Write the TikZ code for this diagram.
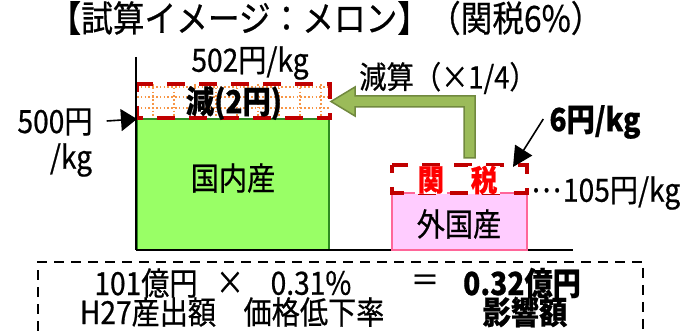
\documentclass[tikz,border=0pt]{standalone}
\usepackage{fontspec}
\setmainfont{Noto Sans CJK JP}[FakeStretch=0.88,FakeBold=0.6]
\usetikzlibrary{arrows.meta}
\definecolor{gfill}{HTML}{99FF66}
\definecolor{gline}{HTML}{2E8B20}
\definecolor{pfill}{HTML}{FFCCFF}
\definecolor{pline}{HTML}{FF6699}
\definecolor{dred}{HTML}{C00000}
\definecolor{dotc}{HTML}{F79646}
\definecolor{afill}{HTML}{9BBB59}
\definecolor{aline}{HTML}{71893F}
\begin{document}
\begin{tikzpicture}[x=1pt,y=-1pt,
  txt/.style={font=\fontsize{32pt}{34pt}\selectfont, inner sep=0pt},
  btxt/.style={txt, font=\fontsize{32pt}{34pt}\selectfont\bfseries},
  boxnode/.style={inner sep=0pt, outer sep=0pt, anchor=north west},
  reddash/.style={draw=dred, line width=4pt, dash pattern=on 18pt off 14pt, dash phase=10pt},
  ptr/.style={-{Triangle[length=16pt,width=22pt]}, line width=1.6pt}
]
\useasboundingbox (0,0) rectangle (689,331);

% title
\node[txt, font=\fontsize{36pt}{38pt}\selectfont] (title) at (326,18) {【試算イメージ：メロン】（関税6\%）};

% domestic box
\node[boxnode, draw=gline, fill=gfill, line width=1.5pt, minimum width=192pt, minimum height=131pt] (dom) at (137,119) {};
\node[txt] (domt) at (233,178) {国内産};

% reduction box with dotted grid
\node[boxnode, minimum width=193pt, minimum height=34pt] (red) at (137,84) {};
\begin{scope}
  \clip (red.north west) rectangle (red.south east);
  \foreach \xx in {0,21,...,200} {
    \draw[dotc, line width=1.5pt, dash pattern=on 1.6pt off 2.2pt] ([xshift=\xx pt+16pt]red.north west) -- ([xshift=\xx pt+16pt]red.south west);
  }
  \foreach \yy in {3,13,24} {
    \draw[dotc, line width=1.5pt, dash pattern=on 1.6pt off 2.2pt] ([yshift=-\yy pt]red.north west) -- ([yshift=-\yy pt]red.north east);
  }
\end{scope}
\draw[reddash] (red.north west) rectangle (red.south east);
\node[btxt] (redt) at (234,103) {減(2円)};

% axis lines
\coordinate (axtop) at (136,57);
\coordinate (axbot) at (136,250);
\coordinate (baseend) at (573,250);
\draw[line width=1.2pt] (axtop) -- (axbot);
\draw[line width=2pt] (axbot) -- (baseend);

% labels left
\node[txt] (l502) at (250,63) {502円/kg};
\node[txt] (l500) at (55,122) {500円};
\node[txt] (lkg) at (71,160) {/kg};
\draw[ptr] ([xshift=14pt,yshift=1pt]l500.east) -- (dom.north west);

% foreign box and tariff
\node[boxnode, draw=pline, fill=pfill, line width=1.5pt, minimum width=135pt, minimum height=57pt] (for) at (392,193) {};
\node[txt] (fort) at (459,224) {外国産};
\node[boxnode, minimum width=135pt, minimum height=28pt] (tax) at (392,165) {};
\draw[reddash] (tax.north west) rectangle (tax.south east);
\node[btxt, font=\fontsize{30pt}{32pt}\selectfont\bfseries, text=red, fill=white, inner xsep=3pt, inner ysep=0pt] (kan) at (431,180) {関};
\node[btxt, font=\fontsize{30pt}{32pt}\selectfont\bfseries, text=red, fill=white, inner xsep=3pt, inner ysep=0pt] (zei) at (484,180) {税};
\node[txt, anchor=west] (l105) at (531,193) {\raisebox{0.3em}{…}\hspace{2pt}105円/kg};
\node[btxt] (l6) at (595,122) {6円/kg};
\draw[ptr, -{Triangle[length=20pt,width=20pt]}] ([xshift=-6pt,yshift=3pt]l6.west) -- ([xshift=-14pt,yshift=-2pt]tax.north east);

% green block arrow
\draw[fill=afill, draw=aline, line width=1.5pt]
  (475,158) -- (475,96) -- (355,96) -- (355,87) -- (331,101.5) -- (355,116) -- (355,107) -- (464,107) -- (464,158) -- cycle;
\node[txt, font=\fontsize{31pt}{33pt}\selectfont] (lgen) at (448,78) {減算（×1/4）};

% bottom dashed frame
\coordinate (fbl) at (38,331);
\coordinate (ftl) at (38,262);
\coordinate (ftr) at (643,262);
\coordinate (fbr) at (643,331);
\draw[line width=2.2pt, dash pattern=on 10pt off 7pt] (fbl) -- (ftl) -- (ftr) -- (fbr);

\node[txt] (b1) at (146,283) {101億円};
\node[txt] (b2) at (230,283) {×};
\node[txt] (b3) at (311,283) {0.31\%};
\node[txt] (b4) at (425,283) {＝};
\node[btxt] (b5) at (522,283) {0.32億円};
\node[txt] (c1) at (148,312) {H27産出額};
\node[txt] (c2) at (314,312) {価格低下率};
\node[btxt] (c3) at (525,312) {影響額};
\end{tikzpicture}
\end{document}
